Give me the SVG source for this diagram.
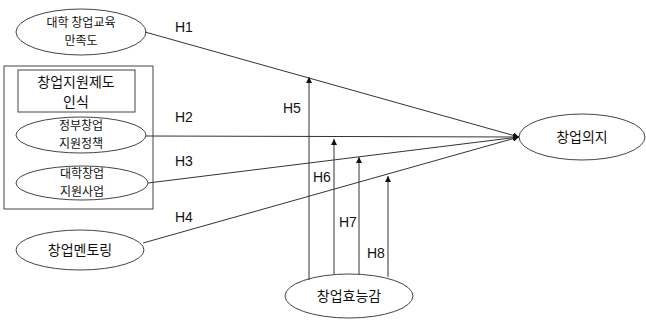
<svg xmlns="http://www.w3.org/2000/svg" width="646" height="320" viewBox="0 0 646 320">
<style>
.n{fill:#fff;stroke:#444;stroke-width:1}
.b{fill:none;stroke:#444;stroke-width:1}
.t{font-family:"Noto Sans CJK KR","Noto Sans",sans-serif;fill:#111;text-anchor:middle}
.s{font-size:12px}
.m{font-size:14px}
.h{font-family:"Liberation Sans",Arial,sans-serif;font-size:14px;fill:#111}
.c line{stroke:#333;stroke-width:1}
</style>
<defs>
<marker id="a" markerWidth="8" markerHeight="8" refX="6" refY="3" orient="auto" markerUnits="userSpaceOnUse">
<path d="M0,0 L6,3 L0,6 z" fill="#111"/>
</marker>
</defs>
<rect width="646" height="320" fill="#fff"/>
<g id="support-box">
<rect class="b" x="4" y="66" width="149" height="143"/>
<rect class="b" x="18" y="70" width="117" height="42"/>
<text class="t m" x="76" y="87">창업지원제도</text>
<text class="t m" x="76" y="107">인식</text>
</g>
<g id="n1">
<ellipse class="n" cx="81" cy="32" rx="65" ry="23"/>
<text class="t s" x="81" y="27">대학 창업교육</text>
<text class="t s" x="81" y="45">만족도</text>
</g>
<g id="n2">
<ellipse class="n" cx="81" cy="135" rx="65" ry="18"/>
<text class="t s" x="81" y="130">정부창업</text>
<text class="t s" x="81" y="148">지원정책</text>
</g>
<g id="n3">
<ellipse class="n" cx="82" cy="183" rx="66" ry="17"/>
<text class="t s" x="82" y="178">대학창업</text>
<text class="t s" x="82" y="196">지원사업</text>
</g>
<g id="n4">
<ellipse class="n" cx="80" cy="250" rx="64" ry="20"/>
<text class="t m" x="80" y="255">창업멘토링</text>
</g>
<g id="n5">
<ellipse class="n" cx="582" cy="137" rx="63" ry="23"/>
<text class="t m" x="582" y="142">창업의지</text>
</g>
<g id="n6">
<ellipse class="n" cx="349" cy="296" rx="64" ry="22"/>
<text class="t m" x="349" y="301">창업효능감</text>
</g>
<g class="c" id="connectors">
<line x1="145" y1="32" x2="519" y2="137" marker-end="url(#a)"/>
<line x1="146" y1="136" x2="519" y2="137" marker-end="url(#a)"/>
<line x1="148" y1="183" x2="519" y2="137" marker-end="url(#a)"/>
<line x1="143" y1="243" x2="519" y2="137" marker-end="url(#a)"/>
<line x1="309" y1="280" x2="309" y2="77" marker-end="url(#a)"/>
<line x1="334" y1="274" x2="334" y2="139" marker-end="url(#a)"/>
<line x1="359" y1="274" x2="359" y2="157" marker-end="url(#a)"/>
<line x1="388" y1="277" x2="388" y2="176" marker-end="url(#a)"/>
</g>
<g id="labels">
<text class="h" x="175" y="32">H1</text>
<text class="h" x="175" y="122">H2</text>
<text class="h" x="175" y="166">H3</text>
<text class="h" x="175" y="222">H4</text>
<text class="h" x="283" y="113">H5</text>
<text class="h" x="313" y="182">H6</text>
<text class="h" x="339" y="227">H7</text>
<text class="h" x="367" y="258">H8</text>
</g>
</svg>
